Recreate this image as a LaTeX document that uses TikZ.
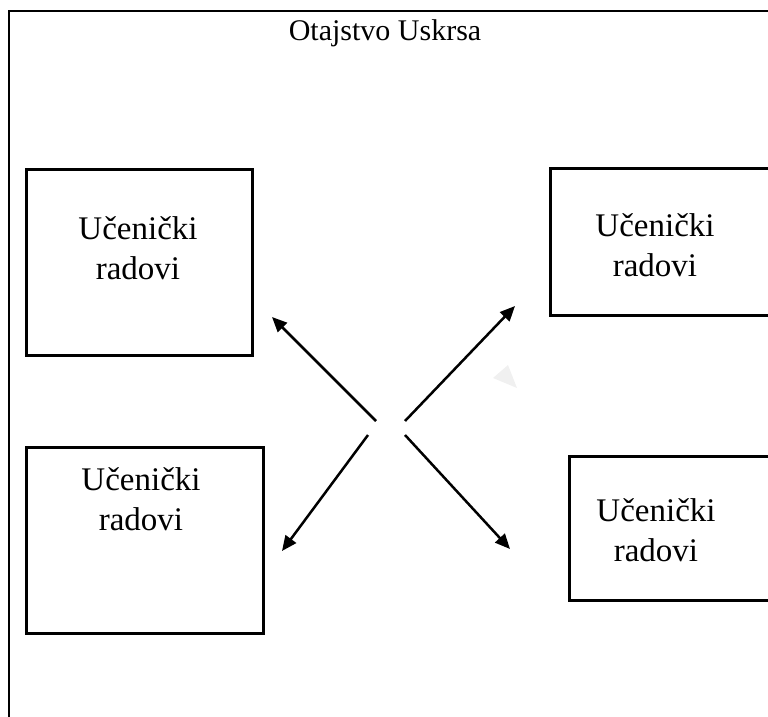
\documentclass[tikz,border=0pt]{standalone}
\usepackage{fontspec}
\setmainfont{Liberation Serif}
\usetikzlibrary{positioning, arrows.meta}
\tikzset{
  >={Triangle[length=15pt, width=13pt]},
  frame/.style={line width=2.5pt},
  box/.style={draw, line width=2.5pt, anchor=north west, inner sep=0pt},
  boxtext/.style={align=center, inner sep=0pt, font=\fontsize{33}{40}\selectfont},
  arrow/.style={->, line width=2.5pt},
}

\begin{document}
\begin{tikzpicture}[x=1pt, y=-1pt]
  \useasboundingbox (0,0) rectangle (768,717);
  \clip (0,0) rectangle (768,717);
  % outer frame, cut off at right and bottom
  \draw[frame] (9,730) -- (9,11) -- (790,11);
  \node[inner sep=0pt, font=\fontsize{30}{36}\selectfont] (title) at (385,33) {Otajstvo Uskrsa};
  % boxes
  \node[box, minimum width=226pt, minimum height=186pt] (tl) at (25,168) {};
  \node[box, minimum width=240pt, minimum height=147pt] (tr) at (549,167) {};
  \node[box, minimum width=237pt, minimum height=186pt] (bl) at (25,446) {};
  \node[box, minimum width=220pt, minimum height=144pt] (br) at (568,455) {};
  \node[boxtext] (tltext) at (138,248) {Učenički\\radovi};
  \node[boxtext] (trtext) at (655,245) {Učenički\\radovi};
  \node[boxtext] (bltext) at (141,499) {Učenički\\radovi};
  \node[boxtext] (brtext) at (656,530) {Učenički\\radovi};
  % arrows
  \coordinate (nwtail) at (376,421);
  \coordinate (nwtip) at (272,317);
  \coordinate (netail) at (405,421);
  \coordinate (netip) at (515,306);
  \coordinate (swtail) at (368,435);
  \coordinate (swtip) at (282,551);
  \coordinate (setail) at (405,435);
  \coordinate (setip) at (510,549);
  \draw[arrow] (nwtail) -- (nwtip);
  \draw[arrow] (netail) -- (netip);
  \draw[arrow] (swtail) -- (swtip);
  \draw[arrow] (setail) -- (setip);
  % faint mark
  \fill[gray!12] (493,378) -- (508,365) -- (517,388) -- cycle;
\end{tikzpicture}
\end{document}
